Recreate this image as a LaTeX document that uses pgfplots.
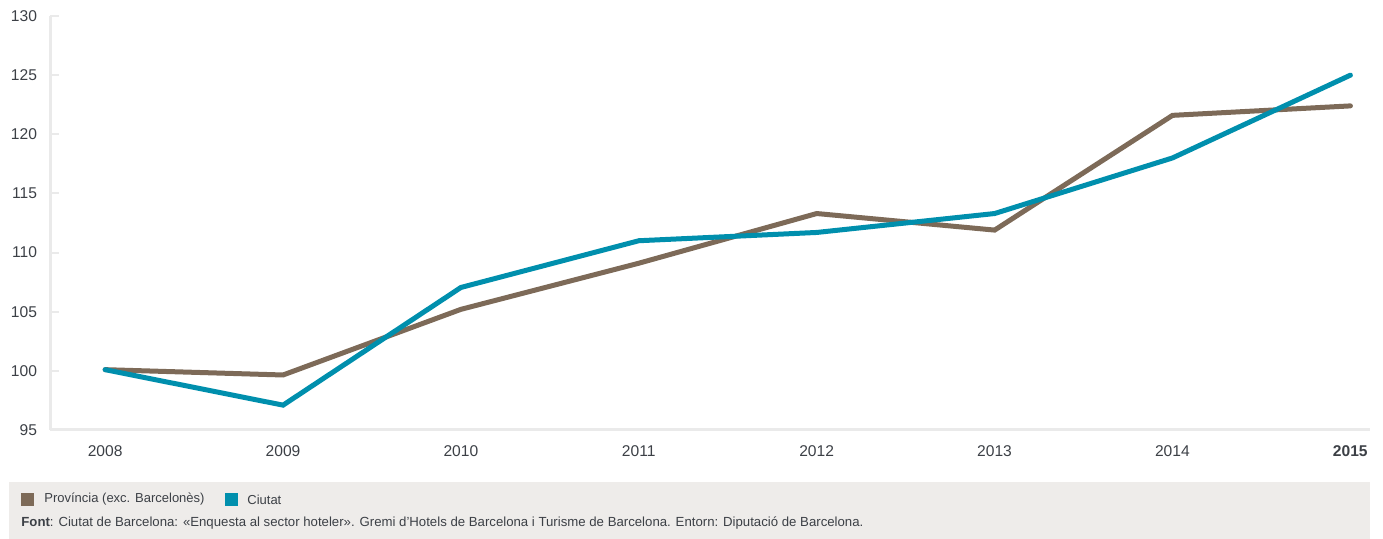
\documentclass[border=0pt]{standalone}
\usepackage{pgfplots}
\pgfplotsset{compat=1.18}
\usepackage{fontspec}
\setmainfont{Liberation Sans}
\definecolor{brownc}{RGB}{125,106,88}
\definecolor{bluec}{RGB}{0,143,173}
\definecolor{txt}{RGB}{60,64,70}
\definecolor{axl}{RGB}{234,234,234}
\definecolor{foot}{RGB}{238,236,234}
\begin{document}
\begin{tikzpicture}
\useasboundingbox (0,0) rectangle (691.5pt,269.5pt);
\fill[foot] (4.5pt,0pt) rectangle (685pt,28.5pt);
\fill[brownc] (10.5pt,16.5pt) rectangle (17pt,23pt);
\node[anchor=west,inner sep=0pt,text=txt,font=\fontsize{6.5}{7.5}\selectfont] at (22pt,19.75pt) {Província (exc. Barcelonès)};
\fill[bluec] (112.5pt,16.5pt) rectangle (119pt,23pt);
\node[anchor=west,inner sep=0pt,text=txt,font=\fontsize{6.5}{7.5}\selectfont] at (123.5pt,19.75pt) {Ciutat};
\node[anchor=west,inner sep=0pt,text=txt,font=\fontsize{6.6}{7.6}\selectfont] at (10.5pt,8pt) {\textbf{Font}: Ciutat de Barcelona: «Enquesta al sector hoteler». Gremi d’Hotels de Barcelona i Turisme de Barcelona. Entorn: Diputació de Barcelona.};
\begin{axis}[
  at={(25pt,54.5pt)}, anchor=south west,
  scale only axis, width=660pt, height=207pt,
  xmin=2007.69, xmax=2015.11, ymin=95, ymax=130,
  axis x line=bottom, axis y line=left,
  axis line style={-, draw=axl, line width=1.5pt},
  xtick={2008,...,2015},
  xticklabels={2008,2009,2010,2011,2012,2013,2014,\textbf{2015}},
  ytick={95,100,...,130},
  xtick style={draw=none},
  ytick style={draw=axl, line width=1pt},
  tick align=inside, major tick length=4.5pt,
  /pgf/number format/assume math mode=true,
  ticklabel style={font=\fontsize{7.8}{9}\selectfont, text=txt, inner sep=0pt},
  yticklabel style={anchor=east, xshift=-6.3pt},
  xticklabel style={anchor=north, yshift=-7.5pt},
  clip=false,
]
\addplot[brownc, line width=2.5pt, line cap=round] coordinates {
 (2008,100.1) (2009,99.65) (2010,105.2) (2011,109.1) (2012,113.3) (2013,111.9) (2014,121.6) (2015,122.4)};
\addplot[bluec, line width=2.5pt, line cap=round] coordinates {
 (2008,100.1) (2009,97.1) (2010,107.05) (2011,111.0) (2012,111.7) (2013,113.3) (2014,118.0) (2015,125.0)};
\end{axis}
\end{tikzpicture}
\end{document}
